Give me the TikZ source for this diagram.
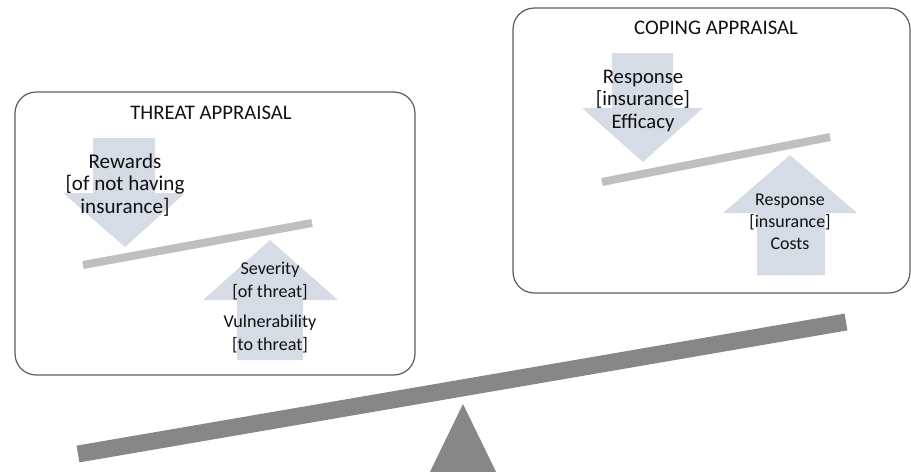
\documentclass[tikz,border=0pt]{standalone}
\usepackage{fontspec}
\setmainfont{Carlito}
\usetikzlibrary{positioning}
\definecolor{ArrFill} {HTML}{D6DCE5}
\definecolor{BarLight}{HTML}{BFBFBF}
\definecolor{BarDark} {HTML}{878787}
\definecolor{BoxLine} {HTML}{5E5E5E}
\definecolor{TxtMain} {HTML}{111111}

\begin{document}
\begin{tikzpicture}[x=0.02cm, y=-0.02cm]
      \useasboundingbox (0,0) rectangle (911,471);
      % ── Panel 1: threat appraisal ──
      \node[draw=BoxLine, line width=0.7pt, rounded corners=12pt,
            minimum width=8cm, minimum height=5.66cm] (threatbox) at (215,233.5) {};
      \node[text=TxtMain, font=\fontsize{11.8}{13}\selectfont] (threattitle) at (211,113) {THREAT APPRAISAL};
      \fill[ArrFill] (93,138) -- (155,138) -- (155,193) -- (185,193) -- (125,247)
                     -- (63,193) -- (93,193) -- cycle;
      \fill[ArrFill] (237,360) -- (303,360) -- (303,300) -- (338,300) -- (270,240)
                     -- (203,300) -- (237,300) -- cycle;
      \draw[BarLight, line width=0.16cm] (83,265) -- (312,223);
      \node[text=TxtMain, align=center, font=\fontsize{12}{12.8}\selectfont] (rewards) at (125,185)
        {Rewards\\{}[of not having\\insurance]};
      \node[text=TxtMain, align=center, font=\fontsize{10.3}{12.8}\selectfont] (severity) at (270,281)
        {Severity\\{}[of threat]};
      \node[text=TxtMain, align=center, font=\fontsize{10.3}{12.8}\selectfont] (vulner) at (270,334)
        {Vulnerability\\{}[to threat]};
      % ── Panel 2: coping appraisal ──
      \node[draw=BoxLine, line width=0.7pt, rounded corners=12pt,
            minimum width=7.94cm, minimum height=5.7cm] (copingbox) at (711.5,150.5) {};
      \node[text=TxtMain, font=\fontsize{11.8}{13}\selectfont] (copingtitle) at (716,28) {COPING APPRAISAL};
      \fill[ArrFill] (612,53) -- (673,53) -- (673,108) -- (703,108) -- (643,162)
                     -- (582,108) -- (612,108) -- cycle;
      \fill[ArrFill] (757,275) -- (825,275) -- (825,213) -- (857,213) -- (790,155)
                     -- (723,213) -- (757,213) -- cycle;
      \draw[BarLight, line width=0.16cm] (602,182) -- (830,137);
      \node[text=TxtMain, align=center, font=\fontsize{11.8}{13}\selectfont] (efficacy) at (643,101)
        {Response\\{}[insurance]\\Efficacy};
      \node[text=TxtMain, align=center, font=\fontsize{10.2}{12.5}\selectfont] (costs) at (790,222)
        {Response\\{}[insurance]\\Costs};
      % ── Seesaw ──
      \draw[BarDark, line width=0.34cm] (78,454) -- (846,322);
      \fill[BarDark] (463,404) -- (500,480) -- (426,480) -- cycle;
    \end{tikzpicture}
\end{document}
